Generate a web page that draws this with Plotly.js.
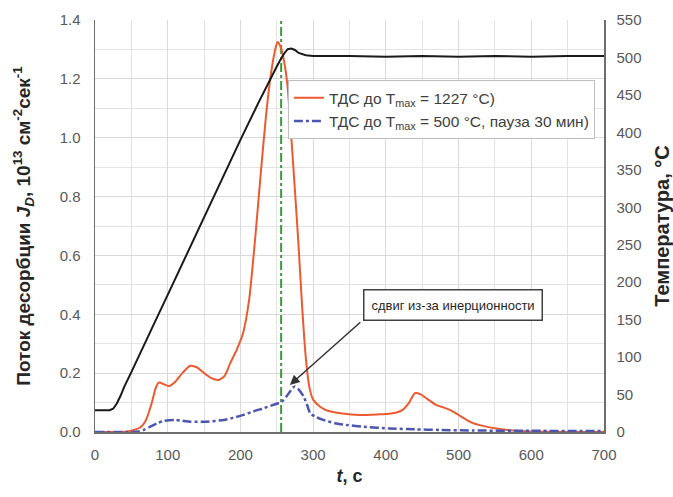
<!DOCTYPE html>
<html>
<head>
<meta charset="utf-8">
<script src="https://cdn.plot.ly/plotly-3.0.1.min.js"></script>
<style>html,body{margin:0;padding:0;background:#fff;}#chart{width:673px;height:497px;}</style>
</head>
<body>
<div id="chart"></div>
<script>
// Temperature (right axis, °C)
const tTemp = [0, 10, 20, 25, 30, 35, 40, 50, 60, 80, 100, 125, 150, 175, 200, 225, 240, 250, 255, 260, 265, 270, 275, 280, 290, 300, 350, 400, 450, 500, 550, 600, 650, 700];
const temp  = [29, 29, 29, 31, 38, 48, 60, 80, 100, 142, 183, 235, 288, 339, 390, 440, 470, 488, 497, 505, 511, 512, 510, 506, 503, 502, 502, 501, 502, 501, 502, 501, 502, 502];

// Series 1: ТДС до Tmax = 1227 °C
const t1 = [0, 30, 45, 55, 63, 70, 77, 84, 88, 95, 102, 110, 120, 131, 140, 150, 160, 170, 178, 186, 195, 204, 212, 220, 228, 235, 241, 247, 251, 255, 260, 265, 270, 275, 280, 285, 290, 295, 300, 310, 320, 340, 364, 390, 405, 415, 423, 432, 440, 448, 456, 469, 480, 488, 500, 519, 535, 552, 575, 600, 650, 700];
const j1 = [0, 0, 0.002, 0.008, 0.017, 0.04, 0.09, 0.153, 0.168, 0.162, 0.156, 0.17, 0.2, 0.225, 0.22, 0.2, 0.183, 0.177, 0.19, 0.234, 0.28, 0.34, 0.45, 0.65, 0.88, 1.07, 1.2, 1.29, 1.325, 1.31, 1.26, 1.17, 1.0, 0.82, 0.63, 0.42, 0.25, 0.15, 0.11, 0.085, 0.072, 0.063, 0.058, 0.06, 0.062, 0.066, 0.075, 0.1, 0.132, 0.128, 0.114, 0.092, 0.083, 0.075, 0.058, 0.031, 0.02, 0.012, 0.005, 0.002, 0, 0];

// Series 2: ТДС до Tmax = 500 °C, пауза 30 мин
const t2 = [0, 50, 60, 67, 75, 86, 95, 109, 120, 131, 154, 177, 190, 204, 218, 232, 245, 257, 263, 268, 272, 275, 280, 287, 292, 296, 305, 314, 330, 346, 370, 405, 440, 474, 520, 600, 700];
const j2 = [0, 0, 0.002, 0.007, 0.017, 0.03, 0.038, 0.041, 0.038, 0.035, 0.035, 0.041, 0.048, 0.058, 0.07, 0.081, 0.092, 0.103, 0.12, 0.137, 0.15, 0.155, 0.145, 0.12, 0.09, 0.063, 0.05, 0.041, 0.03, 0.024, 0.018, 0.012, 0.009, 0.007, 0.005, 0.004, 0.003];

// Vertical marker
const markerT = 256;
const markerJ = [0, 1.4];

// Annotation
const noteText = 'сдвиг из-за инерционности';
const noteArrowT = 268, noteArrowJ = 0.16;
const noteBoxT = 492, noteBoxJ = 0.43;

const legendNames = ['ТДС до T<sub>max</sub> = 1227 °С)', 'ТДС до T<sub>max</sub> = 500 °С, пауза 30 мин)'];

const FONT = 'Arial, "Liberation Sans", sans-serif';

const traces = [
  {x: tTemp, y: temp, yaxis: 'y2', mode: 'lines', line: {color: '#1a1a1a', width: 2}, showlegend: false},
  {x: [markerT, markerT], y: markerJ, mode: 'lines', line: {color: '#3a9a3a', width: 2, dash: 'dashdot'}, showlegend: false},
  {x: t1, y: j1, mode: 'lines', name: legendNames[0], line: {color: '#ec5a30', width: 2, shape: 'spline', smoothing: 0.6}},
  {x: t2, y: j2, mode: 'lines', name: legendNames[1], line: {color: '#4c56b0', width: 2.5, dash: 'dashdot', shape: 'spline', smoothing: 0.6}}
];

const layout = {
  width: 673, height: 497,
  margin: {l: 95, r: 69, t: 20, b: 65},
  paper_bgcolor: '#fff', plot_bgcolor: '#fff',
  font: {family: FONT, size: 15, color: '#595959'},
  xaxis: {
    range: [0, 700], dtick: 100, tick0: 0,
    showgrid: true, gridcolor: '#d9d9d9', gridwidth: 1,
    minor: {dtick: 50, showgrid: true, gridcolor: '#e3e3e3', gridwidth: 1},
    showline: true, linecolor: '#6e6e6e', linewidth: 1.5,
    zeroline: false, ticks: '', ticklabelstandoff: 8, tickfont: {size: 15, color: '#595959'},
    title: {text: '<b><i>t</i>, с</b>', font: {size: 18, color: '#262626'}, standoff: 8}
  },
  yaxis: {
    range: [0, 1.4], dtick: 0.2, tickformat: '.1f',
    showgrid: true, gridcolor: '#d9d9d9', gridwidth: 1,
    minor: {dtick: 0.1, showgrid: true, gridcolor: '#e3e3e3', gridwidth: 1},
    showline: true, linecolor: '#6e6e6e', linewidth: 1.5,
    zeroline: false, ticks: '', ticklabelstandoff: 10, tickfont: {size: 15, color: '#595959'},
    title: {text: '<b>Поток десорбции <i>J</i><sub><i>D</i></sub>, 10<sup>13</sup> см<sup>-2</sup>сек<sup>-1</sup></b>', font: {size: 19, color: '#262626'}, standoff: 24}
  },
  yaxis2: {
    range: [0, 550], dtick: 50, overlaying: 'y', side: 'right',
    showgrid: false, showline: true, linecolor: '#6e6e6e', linewidth: 1.5,
    zeroline: false, ticks: '', ticklabelstandoff: 8, tickfont: {size: 15, color: '#595959'},
    title: {text: '<b>Температура, °С</b>', font: {size: 20, color: '#262626'}, standoff: 14}
  },
  legend: {
    x: 0.379, y: 0.854, xanchor: 'left', yanchor: 'top',
    bgcolor: '#ffffff', bordercolor: '#bfbfbf', borderwidth: 1,
    font: {size: 15.5, color: '#404040'}, tracegroupgap: 4
  },
  annotations: [
    {x: noteArrowT, y: noteArrowJ, xref: 'x', yref: 'y', text: '', showarrow: true,
     arrowhead: 2, arrowsize: 1.3, arrowwidth: 1.5, arrowcolor: '#333', ax: 72, ay: -64},
    {x: noteBoxT, y: noteBoxJ, xref: 'x', yref: 'y', text: noteText, showarrow: false,
     font: {size: 13, color: '#262626'}, bgcolor: '#fff', bordercolor: '#404040', borderwidth: 1.5, borderpad: 7}
  ],
  showlegend: true
};

Plotly.newPlot('chart', traces, layout, {displayModeBar: false, staticPlot: true});
</script>
</body>
</html>
